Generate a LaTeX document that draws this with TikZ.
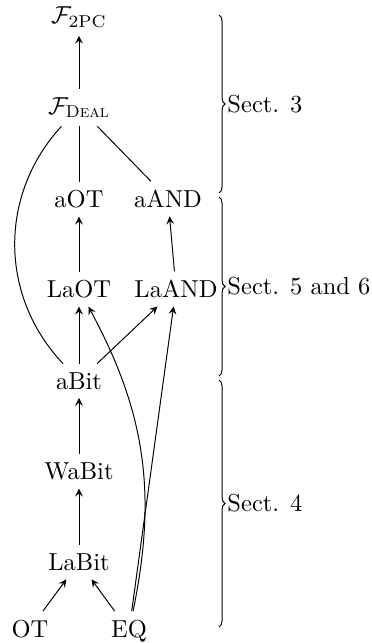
\documentclass[tikz,border=0pt]{standalone}
\usepackage{amsmath}
\usetikzlibrary{decorations.pathreplacing}
\begin{document}
\begin{tikzpicture}[x=0.408pt,y=-0.408pt,
  lbl/.style={anchor=base},
  arr/.style={-stealth},
  brc/.style={decorate,decoration={brace,amplitude=2.5pt}},
  sect/.style={anchor=west,inner sep=0pt}]
\useasboundingbox (0,0) rectangle (372,643);
% nodes
\node[lbl] (f2pc)  at (79,23.5)  {$\mathcal{F}_{\mathrm{2PC}}$};
\node[lbl] (fdeal) at (79,114)   {$\mathcal{F}_{\textsc{Deal}}$};
\node[lbl] (aot)   at (79,207.5) {aOT};
\node[lbl] (aand)  at (168,207.5){aAND};
\node[lbl] (laot)  at (79,297.5) {LaOT};
\node[lbl] (laand) at (176,297.5){LaAND};
\node[lbl] (abit)  at (79,389)   {aBit};
\node[lbl] (wabit) at (79,479.5) {WaBit};
\node[lbl] (labit) at (79,570.5) {LaBit};
\node[lbl] (ot)    at (30,637)   {OT};
\node[lbl] (eq)    at (129,637)  {EQ};
% connectors
\draw[arr] (fdeal) -- (f2pc);
\draw (fdeal) -- (aot);
\draw (fdeal) -- (aand);
\draw (fdeal) to[bend right=43] (abit);
\draw[arr] (laot) -- (aot);
\draw[arr] (laand) -- (aand);
\draw[arr] (abit) -- (laot);
\draw[arr] (abit) -- (laand);
\draw[arr] (eq) to[bend right=20] (laot);
\draw[arr] (eq) -- (laand);
\draw[arr] (wabit) -- (abit);
\draw[arr] (labit) -- (wabit);
\draw[arr] (ot) -- (labit);
\draw[arr] (eq) -- (labit);
% braces
\coordinate (b1t) at (219,15);
\coordinate (b1b) at (219,193);
\coordinate (b2t) at (219,197);
\coordinate (b2b) at (219,376);
\coordinate (b3t) at (219,380);
\coordinate (b3b) at (219,627);
\draw[brc] (b1t) -- (b1b);
\draw[brc] (b2t) -- (b2b);
\draw[brc] (b3t) -- (b3b);
\node[sect] (s3)  at (227,104)   {Sect. 3};
\node[sect] (s56) at (227,286.5) {Sect. 5 and 6};
\node[sect] (s4)  at (227,503.5) {Sect. 4};
\end{tikzpicture}
\end{document}
